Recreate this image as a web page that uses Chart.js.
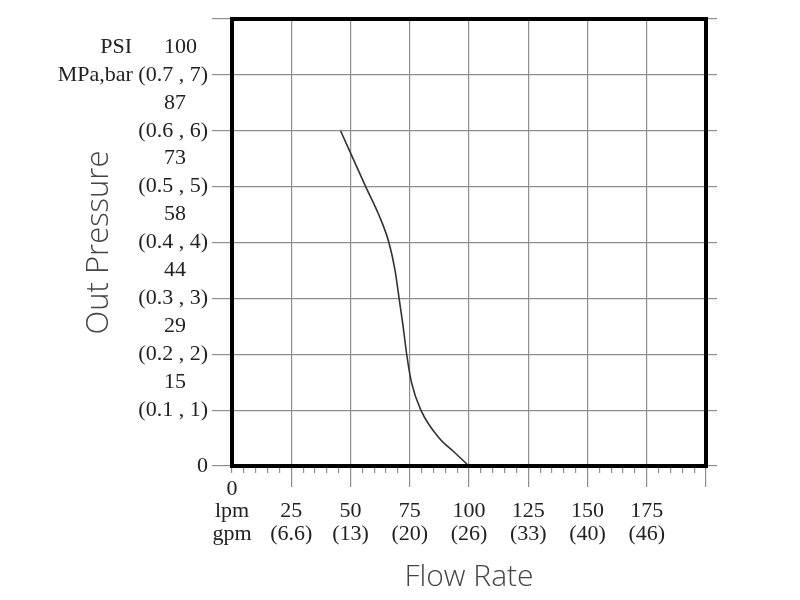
<!DOCTYPE html>
<html>
<head>
<meta charset="utf-8">
<script src="https://cdn.jsdelivr.net/npm/chart.js@4"></script>
<style>
  html, body { margin: 0; padding: 0; background: #fff; }
  #wrap { width: 800px; height: 600px; }
</style>
</head>
<body>
<div id="wrap"><canvas id="chart" width="800" height="600"></canvas></div>
<script>
// 流量 (lpm) と出口圧力 (bar) の曲線
const flowLpm = [45.8, 56.4, 61.9, 66.2, 68.8, 70.5, 72.2, 73.7, 75.7, 79.7, 87.4, 93.7, 100];
const pressureBar = [6, 5, 4.5, 4, 3.5, 3, 2.5, 2, 1.5, 1, 0.5, 0.25, 0];

// 目盛りラベル
const barLabels = ["0", "(0.1 , 1)", "(0.2 , 2)", "(0.3 , 3)", "(0.4 , 4)", "(0.5 , 5)", "(0.6 , 6)", "MPa,bar (0.7 , 7)", ""];
const psiLabels = ["15", "29", "44", "58", "73", "87", "100"];
const lpmLabels = ["0", "25", "50", "75", "100", "125", "150", "175", ""];
const gpmLabels = ["", "(6.6)", "(13)", "(20)", "(26)", "(33)", "(40)", "(46)", ""];

const gridGray = "#8e8e8e";
const serif = "'Liberation Serif', 'DejaVu Serif', serif";

// ▼ 外枠を黒で描く
const frame = {
  id: "frame",
  afterDraw(chart) {
    const { ctx, chartArea } = chart;
    ctx.save();
    ctx.strokeStyle = "#000";
    ctx.lineWidth = 4;
    ctx.strokeRect(chartArea.left, chartArea.top, chartArea.width, chartArea.height);
    ctx.restore();
  },
};

// ▼ PSI の値を bar ラベルの上に書く
const psiText = {
  id: "psiText",
  afterDraw(chart) {
    const { ctx, chartArea } = chart;
    const y = chart.scales.y;
    ctx.save();
    ctx.font = "22px " + serif;
    ctx.fillStyle = "#222";
    ctx.textBaseline = "middle";
    ctx.textAlign = "left";
    psiLabels.forEach((t, i) => {
      ctx.fillText(t, chartArea.left - 68, y.getPixelForValue(i + 1.5));
    });
    ctx.textAlign = "right";
    ctx.fillText("PSI", chartArea.left - 100, y.getPixelForValue(7.5));
    ctx.restore();
  },
};

new Chart(document.getElementById("chart"), {
  type: "scatter",
  data: {
    datasets: [
      {
        data: flowLpm.map((x, i) => ({ x, y: pressureBar[i] })),
        showLine: true,
        borderColor: "#333",
        borderWidth: 1.6,
        pointRadius: 0,
        cubicInterpolationMode: "monotone",
      },
    ],
  },
  plugins: [frame, psiText],
  options: {
    responsive: false,
    animation: false,
    layout: { padding: { left: 0, right: 83, top: 19, bottom: 0 } },
    plugins: { legend: { display: false }, tooltip: { enabled: false } },
    scales: {
      xMinor: {
        type: "linear",
        position: "bottom",
        weight: 0,
        min: 0,
        max: 200,
        border: { display: false },
        grid: {
          color: (c) => (c.tick && c.tick.value % 25 === 0 ? gridGray : "transparent"),
          tickColor: gridGray,
          tickLength: 7,
          lineWidth: 1.2,
        },
        ticks: { display: false, stepSize: 5 },
        afterFit: (s) => { s.height = 7; },
      },
      x: {
        type: "linear",
        position: "bottom",
        weight: 1,
        min: 0,
        max: 200,
        border: { display: false },
        grid: {
          drawOnChartArea: false,
          tickColor: (c) => (c.tick && c.tick.value === 0 ? "transparent" : gridGray),
          tickLength: 14,
          lineWidth: 1.2,
        },
        ticks: {
          stepSize: 25,
          autoSkip: false,
          maxRotation: 0,
          padding: -9,
          color: "#222",
          font: { family: serif, size: 22, lineHeight: 1.02 },
          callback: (v) => {
            const i = Math.round(v / 25);
            if (i === 0) return ["0", "lpm", "gpm"];
            return ["", lpmLabels[i], gpmLabels[i]];
          },
        },
        title: {
          display: true,
          text: "Flow Rate",
          color: "#444",
          font: { family: "'Open Sans', sans-serif", size: 30, weight: "300" },
          padding: { top: 0, bottom: 5 },
        },
        afterFit: (s) => { s.height = 127; },
      },
      y: {
        type: "linear",
        position: "left",
        min: 0,
        max: 8,
        border: { display: false },
        grid: { color: gridGray, tickColor: gridGray, tickLength: 20, lineWidth: 1.2 },
        ticks: {
          stepSize: 1,
          padding: 4,
          color: "#222",
          font: { family: serif, size: 22 },
          callback: (v) => barLabels[Math.round(v)],
        },
        title: {
          display: true,
          text: "Out Pressure",
          color: "#444",
          font: { family: "'Open Sans', sans-serif", size: 31, weight: "300" },
          padding: { top: 81, bottom: 0 },
        },
        afterFit: (s) => { s.width = 232; },
      },
      y2: {
        type: "linear",
        position: "right",
        min: 0,
        max: 8,
        border: { display: false },
        grid: { drawOnChartArea: false, tickColor: gridGray, tickLength: 11, lineWidth: 1.2 },
        ticks: { display: false, stepSize: 1 },
        afterFit: (s) => { s.width = 11; },
      },
    },
  },
});
</script>
</body>
</html>
